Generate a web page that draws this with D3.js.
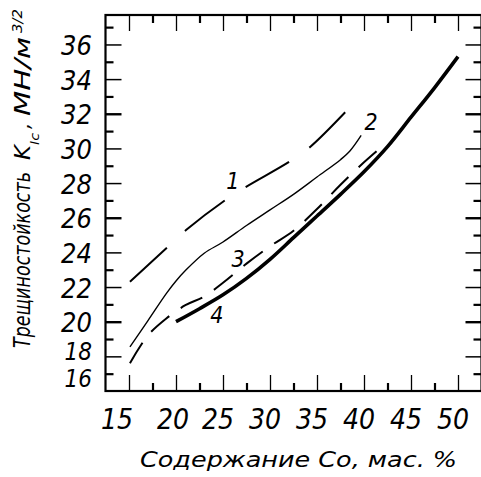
<!DOCTYPE html>
<html><head><meta charset="utf-8">
<script src="https://cdn.jsdelivr.net/npm/d3@7/dist/d3.min.js"></script>
<style>
html,body{margin:0;padding:0;background:#fff;}
svg{display:block;}
text{font-family:"DejaVu Sans Condensed","DejaVu Sans",sans-serif;font-stretch:condensed;font-style:italic;fill:#000;}
</style></head>
<body>
<svg id="chart" width="481" height="477"></svg>
<script>
// ---------- data ----------
const xTickLabels = [15, 20, 25, 30, 35, 40, 45, 50];
const yTickLabels = [16, 18, 20, 22, 24, 26, 28, 30, 32, 34, 36];
const xTitle = "Содержание Со, мас. %";
const yTitleMain = "Трещиностойкость";
const yTitleK = "K";
const yTitleSub = "Ic";
const yTitleUnit = "МН/м";
const yTitleSup = "3/2";

// curve 1 (long dashes)
const c1x = [15.1, 19.2, 21.1, 25.2, 27.5, 32.1, 34.3, 38.2];
const c1y = [22.3, 24.35, 25.3, 27.0, 27.8, 29.25, 30.1, 32.2];
// curve 2 (thin solid)
const c2x = [15.1, 17.0, 19.0, 20.0, 21.0, 23.0, 25.0, 27.5, 30.0, 32.5, 35.0, 37.5, 38.5, 39.7];
const c2y = [18.55, 20.05, 21.65, 22.35, 22.95, 23.95, 24.6, 25.55, 26.45, 27.35, 28.35, 29.35, 29.85, 30.75];
// curve 3 (short dashes)
const c3x = [15.1, 17.0, 19.0, 21.0, 23.0, 25.0, 27.5, 30.0, 32.5, 35.0, 37.5, 40.0, 41.9];
const c3y = [17.6, 19.2, 20.2, 20.95, 21.45, 22.25, 23.35, 24.35, 25.25, 26.5, 27.9, 29.2, 30.1];
// curve 4 (thick solid)
const c4x = [20.0, 22.5, 25.0, 27.5, 30.0, 32.5, 35.0, 37.5, 40.0, 42.5, 45.0, 47.5, 50.0];
const c4y = [20.0, 20.75, 21.55, 22.5, 23.6, 24.85, 26.1, 27.35, 28.65, 30.1, 31.8, 33.5, 35.3];

const curveNames = ["1", "2", "3", "4"];
const curveLabelX = [26.05, 40.75, 26.6, 24.35];
const curveLabelY = [28.1, 31.5, 23.6, 20.4];

// ---------- chart ----------
const svg = d3.select("#chart");
const x = d3.scaleLinear().domain([12.5, 52.5]).range([105.5, 481.5]);
const y = d3.scaleLinear().domain([16, 37.7]).range([391, 15]);

const xMajor = d3.range(15, 50.01, 5);
const xMinor = d3.range(17.5, 50, 5);
const yEven = d3.range(18, 37, 2);
const yOdd = d3.range(17, 38, 2);

function styleAxis(g, w) {
  g.select(".domain").remove();
  g.selectAll(".tick line").attr("stroke", "#000").attr("stroke-width", w);
  g.selectAll(".tick text").remove();
}
// left
svg.append("g").attr("transform", `translate(${x(12.5)},0)`)
  .call(d3.axisLeft(y).tickValues(yEven).tickSize(-16)).call(g => styleAxis(g, 1.5))
  .selectAll(".tick line").attr("stroke-width", d => (d === 20 || d === 26 || d === 32) ? 2.4 : 1.5);
svg.append("g").attr("transform", `translate(${x(12.5)},0)`)
  .call(d3.axisLeft(y).tickValues(yOdd).tickSize(-8)).call(g => styleAxis(g, 2.2));
// right
svg.append("g").attr("transform", `translate(${x(52.5)},0)`)
  .call(d3.axisRight(y).tickValues(yEven).tickSize(-16)).call(g => styleAxis(g, 1.5))
  .selectAll(".tick line").attr("stroke-width", d => (d === 20 || d === 26 || d === 32) ? 2.4 : 1.5);
svg.append("g").attr("transform", `translate(${x(52.5)},0)`)
  .call(d3.axisRight(y).tickValues(yOdd).tickSize(-8)).call(g => styleAxis(g, 2.2));
// top
svg.append("g").attr("transform", `translate(0,${y(37.7)})`)
  .call(d3.axisTop(x).tickValues(xMajor).tickSize(-16)).call(g => styleAxis(g, 1.3));
svg.append("g").attr("transform", `translate(0,${y(37.7)})`)
  .call(d3.axisTop(x).tickValues(xMinor).tickSize(-8)).call(g => styleAxis(g, 2.2));
// bottom
svg.append("g").attr("transform", `translate(0,${y(16)})`)
  .call(d3.axisBottom(x).tickValues(xMajor).tickSize(-16)).call(g => styleAxis(g, 1.3));
svg.append("g").attr("transform", `translate(0,${y(16)})`)
  .call(d3.axisBottom(x).tickValues(xMinor).tickSize(-8)).call(g => styleAxis(g, 2.2));

// frame
svg.append("rect")
  .attr("x", x(12.5)).attr("y", y(37.7))
  .attr("width", x(52.5) - x(12.5)).attr("height", y(16) - y(37.7))
  .attr("fill", "none").attr("stroke", "#000").attr("stroke-width", 2.2);

// tick labels
svg.append("g").selectAll("text").data(xTickLabels).join("text")
  .attr("x", d => x(d) + (d === 15 ? -12 : d === 20 ? -3 : -5))
  .attr("y", 429)
  .attr("text-anchor", "middle")
  .attr("font-size", 28)
  .text(d => d);

svg.append("g").selectAll("text").data(yTickLabels).join("text")
  .attr("x", 92)
  .attr("y", d => y(d) + 10.5 + (d === 18 ? -7 : d === 16 ? -15 : 0))
  .attr("text-anchor", "end")
  .attr("font-size", d => d <= 18 ? 24 : 27)
  .text(d => d);

// axis titles
svg.append("text")
  .attr("x", 140).attr("y", 467)
  .attr("font-size", 21)
  .attr("textLength", 317).attr("lengthAdjust", "spacingAndGlyphs")
  .text(xTitle);

const yt = svg.append("g").attr("transform", "translate(29.5,0) rotate(-90)");
yt.append("text").attr("x", -348).attr("y", 0).attr("font-size", 23)
  .attr("textLength", 176).attr("lengthAdjust", "spacingAndGlyphs").text(yTitleMain);
yt.append("text").attr("x", -160).attr("y", 0).attr("font-size", 22)
  .attr("textLength", 15).attr("lengthAdjust", "spacingAndGlyphs").text(yTitleK);
yt.append("text").attr("x", -145).attr("y", 9).attr("font-size", 12)
  .attr("textLength", 12).attr("lengthAdjust", "spacingAndGlyphs").text(yTitleSub);
yt.append("text").attr("x", -129).attr("y", 0).attr("font-size", 22).text(",");
yt.append("text").attr("x", -116).attr("y", 0).attr("font-size", 22)
  .attr("textLength", 79).attr("lengthAdjust", "spacingAndGlyphs").text(yTitleUnit);
yt.append("text").attr("x", -33).attr("y", -8).attr("font-size", 14)
  .attr("textLength", 24).attr("lengthAdjust", "spacingAndGlyphs").text(yTitleSup);

// curves
const line = d3.line().x(d => x(d[0])).y(d => y(d[1])).curve(d3.curveCatmullRom.alpha(0.5));
const zip = (a, b) => a.map((v, i) => [v, b[i]]);
const curves = [
  { pts: zip(c1x, c1y), w: 2.0, dash: "50,25" },
  { pts: zip(c2x, c2y), w: 1.4, dash: null },
  { pts: zip(c3x, c3y), w: 2.0, dash: "24,14" },
  { pts: zip(c4x, c4y), w: 3.6, dash: null }
];
svg.append("g").selectAll("path").data(curves).join("path")
  .attr("d", d => line(d.pts))
  .attr("fill", "none").attr("stroke", "#000")
  .attr("stroke-width", d => d.w)
  .attr("stroke-dasharray", d => d.dash)
  .attr("stroke-linecap", "butt");

svg.append("g").selectAll("text").data(curveNames).join("text")
  .attr("x", (d, i) => x(curveLabelX[i]))
  .attr("y", (d, i) => y(curveLabelY[i]))
  .attr("text-anchor", "middle")
  .attr("dominant-baseline", "central")
  .attr("font-size", 23)
  .text(d => d);
</script>
</body></html>
